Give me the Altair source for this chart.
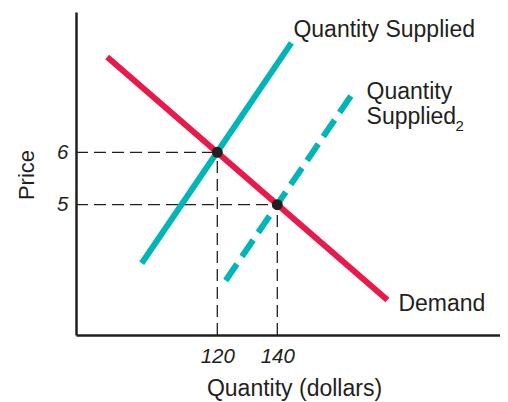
import altair as alt
import pandas as pd

# ---- data ----
quantity_ticks = [120, 140]
price_ticks = [5, 6]

demand_q = [83.3, 176.7]
demand_p = [7.82, 3.18]
supply_q = [94.8, 144.7]
supply_p = [3.88, 8.09]
supply2_q = [122.8, 166.1]
supply2_p = [3.55, 7.21]

eq_q = [120, 140]
eq_p = [6, 5]

x_domain = [72.9, 214.23]
y_domain = [2.51, 8.68]

FONT = "Liberation Sans"
INK = "#231f20"
RED = "#e8194b"
TEAL = "#00b5b7"

PLOT_W, PLOT_H = 424, 323

xs = alt.Scale(domain=x_domain, nice=False, zero=False)
ys = alt.Scale(domain=y_domain, nice=False, zero=False)

x_axis = alt.Axis(values=quantity_ticks, format="d", title="Quantity (dollars)", ticks=False, grid=False,
                  labelFontStyle="italic", labelFontSize=20.5, labelPadding=11,
                  titleFontSize=23, titleFontWeight="normal",
                  titleX=218, titleY=60, titleBaseline="alphabetic", titleAlign="center")
y_axis = alt.Axis(values=price_ticks, format="d", title="Price", ticks=False, grid=False,
                  labelFontStyle="italic", labelFontSize=20.5, labelPadding=8,
                  titleFontSize=22, titleFontWeight="normal",
                  titleX=-50, titleY=PLOT_H / 2 + 1, titleAngle=270,
                  titleBaseline="middle", titleAlign="center")

eq_df = pd.DataFrame({"q": eq_q, "p": eq_p, "x0": [x_domain[0]] * 2, "y0": [y_domain[0]] * 2})

hrules = alt.Chart(eq_df).mark_rule(strokeDash=[12, 6], strokeWidth=1.3, color=INK).encode(
    x=alt.X("x0:Q", scale=xs, axis=x_axis), x2="q:Q",
    y=alt.Y("p:Q", scale=ys, axis=y_axis))
vrules = alt.Chart(eq_df).mark_rule(strokeDash=[12, 6], strokeWidth=1.3, color=INK).encode(
    x=alt.X("q:Q", scale=xs), y=alt.Y("y0:Q", scale=ys), y2="p:Q")

def line_df(q, p):
    return pd.DataFrame({"q": q, "p": p, "o": list(range(len(q)))})

supply = alt.Chart(line_df(supply_q, supply_p)).mark_line(
    strokeWidth=6, color=TEAL, strokeCap="butt").encode(
    x=alt.X("q:Q", scale=xs), y=alt.Y("p:Q", scale=ys), order="o:O")
supply2 = alt.Chart(line_df(supply2_q, supply2_p)).mark_line(
    strokeWidth=6, color=TEAL, strokeCap="butt", strokeDash=[20, 9]).encode(
    x=alt.X("q:Q", scale=xs), y=alt.Y("p:Q", scale=ys), order="o:O")
demand = alt.Chart(line_df(demand_q, demand_p)).mark_line(
    strokeWidth=6, color=RED, strokeCap="butt").encode(
    x=alt.X("q:Q", scale=xs), y=alt.Y("p:Q", scale=ys), order="o:O")

points = alt.Chart(eq_df).mark_circle(size=120, color=INK, opacity=1).encode(
    x=alt.X("q:Q", scale=xs), y=alt.Y("p:Q", scale=ys))

def label(text, q, p, dx, dy, size=23):
    return alt.Chart(pd.DataFrame({"q": [q], "p": [p], "t": [text]})).mark_text(
        align="left", baseline="alphabetic", dx=dx, dy=dy, fontSize=size, font=FONT, color=INK).encode(
        x=alt.X("q:Q", scale=xs), y=alt.Y("p:Q", scale=ys), text="t:N")

labels = [
    label("Quantity Supplied", supply_q[-1], supply_p[-1], 2, -6),
    label("Quantity", supply2_q[-1], supply2_p[-1], 11, 10),
    label("Supplied", supply2_q[-1], supply2_p[-1], 11, 35),
    label("2", supply2_q[-1], supply2_p[-1], 100, 42, 15),
    label("Demand", demand_q[-1], demand_p[-1], 11, 11),
]

chart = alt.layer(hrules, vrules, supply, supply2, demand, points, *labels).properties(
    width=PLOT_W, height=PLOT_H,
    autosize=alt.AutoSizeParams(type="none"),
    padding={"left": 68, "top": 4, "right": 0, "bottom": 67},
).configure_view(stroke=None).configure_axis(
    domainColor=INK, domainWidth=2.5, labelColor=INK, titleColor=INK,
    labelFont=FONT, titleFont=FONT,
)

chart.save("out.html", embed_options={"renderer": "svg", "actions": False})
